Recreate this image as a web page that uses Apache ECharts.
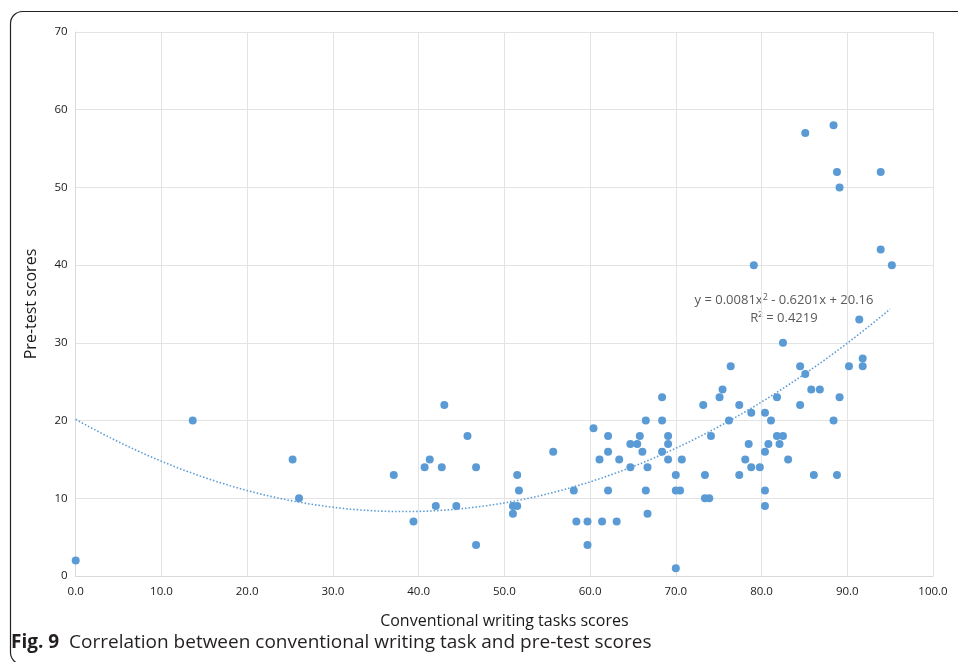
<!DOCTYPE html>
<html><head><meta charset="utf-8">
<script src="https://cdn.jsdelivr.net/npm/echarts@6/dist/echarts.min.js"></script>
<style>html,body{margin:0;padding:0;background:#fff}#c{width:958px;height:662px}</style>
</head><body><div id="c"></div>
<script>
const xTicks = ['0.0','10.0','20.0','30.0','40.0','50.0','60.0','70.0','80.0','90.0','100.0'];
const yTicks = [0,10,20,30,40,50,60,70];
const writingScores = [0,13.65,25.3,26.05,37.1,39.4,40.7,41.3,42.0,42.7,43.0,44.4,45.7,46.7,46.7,51.0,51.5,51.0,51.5,51.7,55.7,58.1,58.4,59.7,59.7,60.4,61.1,61.4,62.1,62.1,62.1,63.1,63.4,64.7,64.7,65.5,65.8,66.1,66.5,66.5,66.7,66.7,68.4,68.4,68.4,69.1,69.1,69.1,70.0,70.0,70.5,70.0,70.7,73.2,73.4,73.4,73.9,74.1,75.1,75.45,76.2,76.4,77.4,77.4,78.1,78.5,78.8,78.8,79.1,79.8,80.4,80.4,80.4,80.4,80.8,81.1,81.8,81.8,82.1,82.5,82.5,83.1,84.5,84.5,85.1,85.1,85.8,86.1,86.8,88.4,88.4,88.8,88.8,89.1,89.1,90.2,91.4,91.8,91.8,93.9,93.9,95.2];
const pretestScores = [2,20,15,10,13,7,14,15,9,14,22,9,18,14,4,9,9,8,13,11,16,11,7,7,4,19,15,7,18,16,11,7,15,17,14,17,18,16,20,11,14,8,23,20,16,18,17,15,13,11,11,1,15,22,13,10,10,18,23,24,20,27,22,13,15,17,21,14,40,14,21,16,11,9,17,20,23,18,17,18,30,15,27,22,26,57,24,13,24,58,20,52,13,50,23,27,33,28,27,52,42,40];
const trendCoef = {a:0.0081, b:-0.6201, c:20.16};
const trendRange = [0, 95];
const equationText = 'y = 0.0081x{s|2} - 0.6201x + 20.16';
const r2Text = 'R² = 0.4219';

const points = writingScores.map((x,i)=>[x, pretestScores[i]]);
const trend = [];
for (let x = trendRange[0]; x <= trendRange[1] + 1e-9; x += 0.5) {
  trend.push([x, trendCoef.a*x*x + trendCoef.b*x + trendCoef.c]);
}
const chart = echarts.init(document.getElementById('c'), null, {renderer:'canvas'});
const font = '"Open Sans", "Noto Sans", sans-serif';
chart.setOption({
  animation:false,
  backgroundColor:'#fff',
  grid:{left:75.7, right:25, top:32, bottom:86, outerBoundsMode:'none'},
  xAxis:{type:'value', min:0, max:100, interval:10,
    name:'Conventional writing tasks scores', nameLocation:'middle', nameGap:37,
    nameTextStyle:{fontFamily:font, fontSize:16, color:'#1a1a1a'},
    axisLine:{show:true, lineStyle:{color:'#d9d9d9', width:1}},
    axisTick:{show:false},
    splitLine:{show:true, lineStyle:{color:'#e3e3e3', width:1}},
    axisLabel:{fontFamily:font, fontSize:11.5, color:'#1a1a1a', margin:10, formatter:(v)=>xTicks[Math.round(v/10)]}},
  yAxis:{type:'value', min:0, max:70, interval:10,
    name:'Pre-test scores', nameLocation:'middle', nameGap:36, nameRotate:90,
    nameTextStyle:{fontFamily:font, fontSize:16, color:'#1a1a1a'},
    axisLine:{show:true, lineStyle:{color:'#d9d9d9', width:1}},
    axisTick:{show:false},
    splitLine:{show:true, lineStyle:{color:'#e3e3e3', width:1}},
    axisLabel:{fontFamily:font, fontSize:11.5, color:'#1a1a1a', margin:8, formatter:(v)=>String(yTicks[Math.round(v/10)])}},
  series:[
    {type:'scatter', data:points, symbol:'circle', symbolSize:8,
     itemStyle:{color:'#5b9bd5', opacity:1}, z:3},
    {type:'line', data:trend, showSymbol:false, smooth:false,
     lineStyle:{color:'#5b9bd5', width:1.6, type:[1.5,2]}, z:2, silent:true}
  ],
  graphic:[
    {type:'rect', shape:{x:10.5, y:11.5, width:1000, height:653, r:12}, style:{fill:'none', stroke:'#222', lineWidth:1.2}, silent:true},
    {type:'text', x:784, y:300, style:{text:equationText, rich:{s:{fontSize:9, verticalAlign:'top', padding:[0,0,6,0], fontFamily:font, fill:'#595959'}}, font:'13px '+font, fill:'#595959', align:'center', verticalAlign:'middle'}},
    {type:'text', x:784, y:318, style:{text:r2Text, font:'13px '+font, fill:'#595959', align:'center', verticalAlign:'middle'}},
    {type:'text', x:11, y:643, style:{text:'{b|Fig. 9}  Correlation between conventional writing task and pre-test scores', rich:{b:{fontWeight:'bold', fontSize:19, fontFamily:font, fill:'#231f20'}}, font:'19px '+font, fill:'#231f20', verticalAlign:'middle'}}
  ]
});
</script></body></html>
